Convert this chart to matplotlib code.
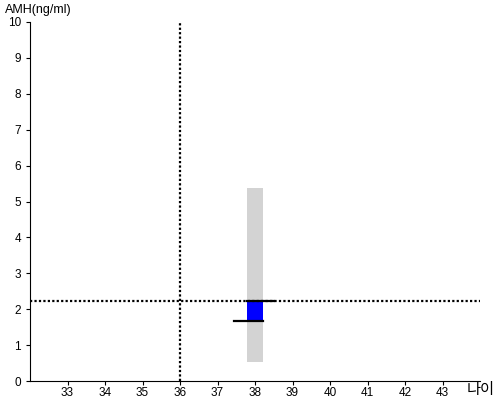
import matplotlib
matplotlib.use("Agg")
import matplotlib.pyplot as plt

plt.rcParams['font.family'] = ['Liberation Sans', 'Noto Sans CJK KR', 'DejaVu Sans']

# reference range (gray) and individual box (blue)
age = 38
range_low = 0.53
range_high = 5.38
box_low = 1.67
box_high = 2.24
patient_age = 36
patient_amh = 2.24
low_line = [37.44, 38.2]
high_line = [37.78, 38.5]
bar_width = 0.42

x_ticks = list(range(33, 44))
y_ticks = list(range(0, 11))

fig = plt.figure(figsize=(5, 4), dpi=100)
ax = fig.add_axes([0.06, 0.0475, 0.9, 0.8975])

ax.bar(age, range_high - range_low, bottom=range_low, width=bar_width,
       color='lightgray', zorder=1)
ax.bar(age, box_high - box_low, bottom=box_low, width=bar_width,
       color='blue', zorder=2)
ax.plot(low_line, [box_low, box_low], color='black', lw=1.6, zorder=3)
ax.plot(high_line, [box_high, box_high], color='black', lw=1.6, zorder=3)

ax.axhline(patient_amh, color='black', ls=(0, (1, 1)), lw=1.6, zorder=2.5)
ax.axvline(patient_age, color='black', ls=(0, (1, 1)), lw=1.6, zorder=2.5)

ax.set_xlim(32, 44)
ax.set_ylim(0, 10)
ax.set_xticks(x_ticks)
ax.set_yticks(y_ticks)
ax.tick_params(labelsize=8.5, length=3, direction='out')
ax.tick_params(axis='x', pad=1.5)
for s in ['top', 'right']:
    ax.spines[s].set_visible(False)

fig.text(0.01, 0.975, 'AMH(ng/ml)', fontsize=9, va='center', ha='left')
fig.text(0.99, 0.025, '나이', fontsize=11, va='center', ha='right')

fig.savefig('out.png', dpi=100)
